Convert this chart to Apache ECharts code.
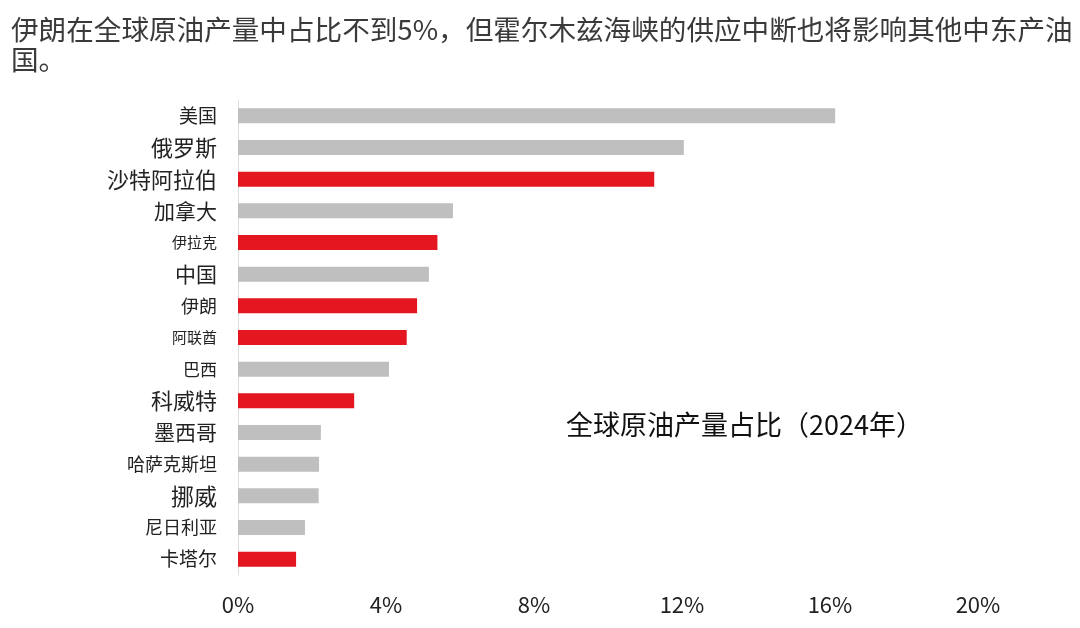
<!DOCTYPE html>
<html>
<head>
<meta charset="utf-8">
<script src="https://cdn.jsdelivr.net/npm/echarts@6/dist/echarts.min.js"></script>
<style>
  html, body { margin: 0; padding: 0; background: #fff; }
  #chart { width: 1080px; height: 628px; }
</style>
</head>
<body>
<div id="chart"></div>
<script>
// 国家（从上到下）
var countries = ['美国', '俄罗斯', '沙特阿拉伯', '加拿大', '伊拉克', '中国', '伊朗', '阿联酋',
    '巴西', '科威特', '墨西哥', '哈萨克斯坦', '挪威', '尼日利亚', '卡塔尔'];
// 全球原油产量占比 (%)
var shares = [16.14, 12.05, 11.25, 5.81, 5.39, 5.16, 4.84, 4.56, 4.08, 3.14, 2.24, 2.19, 2.18, 1.81, 1.57];
// 中东产油国高亮
var middleEast = ['沙特阿拉伯', '伊拉克', '伊朗', '阿联酋', '科威特', '卡塔尔'];
var xTicks = [0, 4, 8, 12, 16, 20];

var GRAY = '#bfbfbf';
var RED = '#e4161f';
var FONT = '"Noto Sans CJK SC", "Noto Sans", sans-serif';

// 原图中标签字号不一
var labelSize = {
    '美国': 19, '俄罗斯': 22, '沙特阿拉伯': 22, '加拿大': 21, '伊拉克': 15, '中国': 21,
    '伊朗': 18, '阿联酋': 15, '巴西': 17, '科威特': 22, '墨西哥': 21, '哈萨克斯坦': 18,
    '挪威': 23, '尼日利亚': 18, '卡塔尔': 19
};
var rich = {};
countries.forEach(function (c, i) {
    rich['s' + i] = { fontSize: labelSize[c], color: '#222', fontFamily: FONT };
});

var chart = echarts.init(document.getElementById('chart'));

var option = {
    animation: false,
    title: {
        text: '伊朗在全球原油产量中占比不到5%，但霍尔木兹海峡的供应中断也将影响其他中东产油\n国。',
        left: 6,
        top: 10,
        textStyle: {
            fontSize: 27.6,
            fontWeight: 'normal',
            color: '#3a3a3a',
            lineHeight: 30,
            fontFamily: FONT
        }
    },
    graphic: [{
        type: 'text',
        left: 566,
        top: 411,
        style: {
            text: '全球原油产量占比（2024年）',
            fontSize: 27,
            fill: '#111',
            fontFamily: FONT
        }
    }],
    grid: {
        left: 238,
        right: 102,
        top: 100,
        bottom: 53,
        containLabel: false
    },
    xAxis: {
        type: 'value',
        min: 0,
        max: 20,
        interval: 4,
        axisLine: { show: false },
        axisTick: { show: false },
        splitLine: { show: false },
        axisLabel: {
            margin: 19,
            fontSize: 22,
            color: '#222',
            fontFamily: FONT,
            formatter: function (v) {
                return xTicks.indexOf(v) >= 0 ? v + '%' : '';
            }
        }
    },
    yAxis: {
        type: 'category',
        inverse: true,
        data: countries,
        axisLine: { show: true, lineStyle: { color: '#dedede', width: 1 } },
        axisTick: { show: false },
        axisLabel: {
            margin: 21,
            formatter: function (v, i) {
                return '{s' + i + '|' + v + '}';
            },
            rich: rich
        }
    },
    series: [{
        type: 'bar',
        barWidth: 15,
        data: shares.map(function (v, i) {
            return {
                value: v,
                itemStyle: { color: middleEast.indexOf(countries[i]) >= 0 ? RED : GRAY }
            };
        })
    }]
};

chart.setOption(option);
</script>
</body>
</html>
